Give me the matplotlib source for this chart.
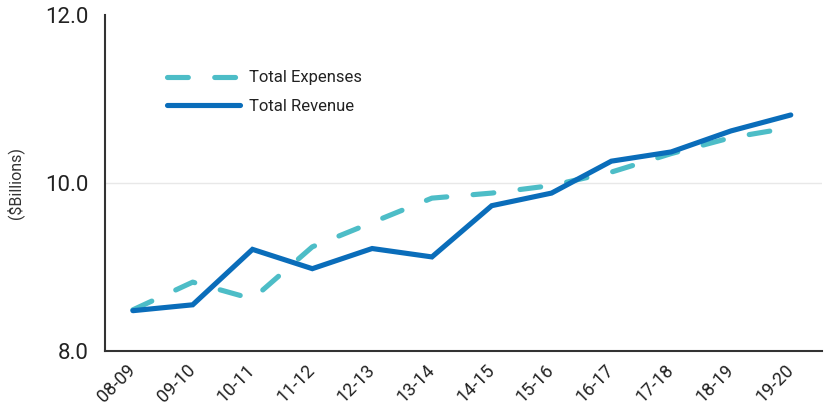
import matplotlib
matplotlib.use("Agg")
import matplotlib.pyplot as plt

plt.rcParams['font.family'] = ['Roboto', 'DejaVu Sans']
plt.rcParams['lines.scale_dashes'] = False

years = ["08-09", "09-10", "10-11", "11-12", "12-13", "13-14",
         "14-15", "15-16", "16-17", "17-18", "18-19", "19-20"]
expenses = [8.49, 8.82, 8.62, 9.24, 9.53, 9.82, 9.88, 9.97, 10.13, 10.35, 10.54, 10.66]
revenue = [8.48, 8.55, 9.21, 8.98, 9.22, 9.12, 9.73, 9.88, 10.26, 10.37, 10.62, 10.81]
yticks = [8.0, 10.0, 12.0]

fig = plt.figure(figsize=(8.26, 4.07), dpi=100)
ax = fig.add_axes([0.127, 0.1376, 0.868, 0.8255])

x = list(range(len(years)))
ax.plot(x, expenses, color="#4dbdc7", lw=3.7, linestyle=(0, (15, 19)),
        dash_capstyle="round", solid_capstyle="round", label="Total Expenses", zorder=3)
ax.plot(x, revenue, color="#0a6dba", lw=3.7, solid_capstyle="round",
        solid_joinstyle="miter", label="Total Revenue", zorder=4)

ax.set_xlim(-0.468, 11.52)
ax.set_ylim(8.0, 12.0)
ax.set_yticks(yticks)
ax.set_yticklabels([f"{v:.1f}" for v in yticks], fontsize=16, color="#222222")
ax.set_xticks(x)
ax.set_xticklabels(years, fontsize=13, color="#222222", rotation=45,
                   ha="right", va="center", rotation_mode="anchor")
ax.tick_params(axis="both", length=0)
ax.tick_params(axis="y", pad=12)
ax.tick_params(axis="x", pad=12)

ax.grid(axis="y", color="#e8e8e8", lw=1)
gl = ax.yaxis.get_gridlines()
gl[0].set_visible(False)
gl[-1].set_visible(False)
ax.set_axisbelow(True)
for s in ["top", "right"]:
    ax.spines[s].set_visible(False)
for s in ["left", "bottom"]:
    ax.spines[s].set_color("#333333")
    ax.spines[s].set_linewidth(1.5)

ax.set_ylabel("($Billions)", fontsize=11.5, color="#333333", labelpad=15)

leg = ax.legend(loc="upper left", bbox_to_anchor=(0.065, 0.88), frameon=False,
                fontsize=12, handlelength=4.4, handletextpad=0.55, labelspacing=0.8)
for t in leg.get_texts():
    t.set_color("#222222")

fig.savefig("out.png", dpi=100)
